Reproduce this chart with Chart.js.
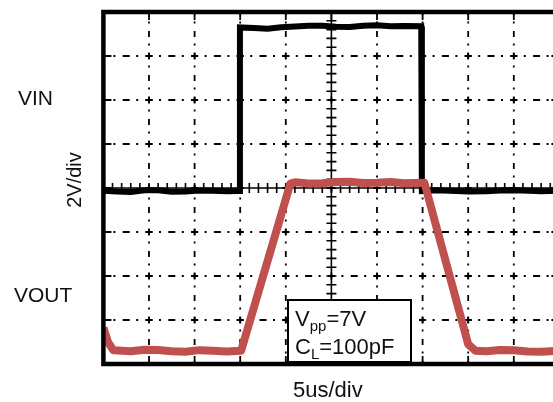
<!DOCTYPE html>
<html>
<head>
<meta charset="utf-8">
<script src="https://cdn.jsdelivr.net/npm/chart.js@4"></script>
<style>
  html, body { margin: 0; padding: 0; background: #fff; overflow: hidden; width: 553px; height: 402px; }
  #wrap { position: relative; width: 553px; height: 402px; overflow: hidden;
          font-family: "Liberation Sans", Arial, sans-serif; color: #111; }
  #scope { position: absolute; left: 0; top: 0; }
  .lbl { position: absolute; line-height: 1; white-space: nowrap; }
  #vin  { left: 18px; top: 87px; font-size: 21px; }
  #vout { left: 14px; top: 284px; font-size: 21px; }
  #vdiv { left: 74px; top: 180px; font-size: 20px; transform: translate(-50%, -50%) rotate(-90deg); }
  #hdiv { left: 293px; top: 379px; font-size: 22px; }
  #note { position: absolute; left: 287px; top: 299px; width: 125px; height: 64px; box-sizing: border-box;
          border: 2px solid #000; background: #fff; }
  #note .row { position: absolute; left: 6px; font-size: 22px; line-height: 1; white-space: nowrap; }
  #note .row sub { font-size: 15px; vertical-align: -5px; line-height: 0; }
</style>
</head>
<body>
<div id="wrap">
  <canvas id="scope" width="600" height="402"></canvas>
  <div class="lbl" id="vin">VIN</div>
  <div class="lbl" id="vout">VOUT</div>
  <div class="lbl" id="vdiv">2V/div</div>
  <div class="lbl" id="hdiv">5us/div</div>
  <div id="note">
    <div class="row" style="top:7px">V<sub>pp</sub>=7V</div>
    <div class="row" style="top:35px">C<sub>L</sub>=100pF</div>
  </div>
</div>
<script>
// Screen: 10 horizontal divisions at 5 µs, 8 vertical divisions at 2 V
const xRange = [0, 50];
const yRange = [-8, 8];
const xStep = 5;
const yStep = 2;

// Input square pulse (µs, V)
const vinTime = [0, 1.5, 3, 4.5, 6, 7.5, 9, 10.5, 12, 13.5, 14.9, 14.97, 16.5, 18, 19.5, 21, 22.5, 24, 25.5, 27, 28.5, 30, 31.5, 33, 34.85, 34.92, 36.5, 38, 40, 42, 44, 46, 48, 50];
const vinVolt = [-0.12, -0.16, -0.18, -0.1, -0.1, -0.17, -0.16, -0.11, -0.12, -0.15, -0.14, 7.30, 7.27, 7.24, 7.31, 7.34, 7.37, 7.38, 7.33, 7.32, 7.38, 7.40, 7.35, 7.36, 7.35, -0.14, -0.1, -0.12, -0.16, -0.15, -0.1, -0.11, -0.15, -0.13];

// Output with slew-limited edges (µs, V)
const voutTime = [0, 0.5, 1.1, 3, 4.5, 6, 7.5, 9, 10.5, 12, 13.5, 15.1, 20.5, 21, 22.5, 24, 25.5, 27, 28.5, 30, 31.5, 33, 35.2, 40.0, 40.8, 42, 43.5, 45, 46.5, 48, 50];
const voutVolt = [-6.35, -7.0, -7.38, -7.42, -7.35, -7.36, -7.42, -7.44, -7.37, -7.40, -7.43, -7.40, 0.20, 0.26, 0.21, 0.22, 0.27, 0.28, 0.23, 0.24, 0.27, 0.22, 0.24, -7.10, -7.40, -7.42, -7.36, -7.38, -7.43, -7.44, -7.40];

const toPoints = (ts, vs) => ts.map((t, i) => ({ x: t, y: vs[i] }));

// Oscilloscope graticule: dash-dot divisions, centre axes with minor ticks, thick frame
const graticule = {
  id: 'graticule',
  beforeDatasetsDraw(chart) {
    const { ctx, chartArea: a, scales: { x, y } } = chart;
    const divW = x.getPixelForValue(xRange[0] + xStep) - x.getPixelForValue(xRange[0]);
    const divH = y.getPixelForValue(yRange[0]) - y.getPixelForValue(yRange[0] + yStep);
    const xs = [], ys = [];
    for (let v = xRange[0] + xStep; v < xRange[1] - 1e-9; v += xStep) xs.push(v);
    for (let v = yRange[0] + yStep; v < yRange[1] - 1e-9; v += yStep) ys.push(v);
    const cx = x.getPixelForValue((xRange[0] + xRange[1]) / 2);
    const cy = y.getPixelForValue((yRange[0] + yRange[1]) / 2);

    ctx.save();
    ctx.strokeStyle = '#000';
    ctx.lineWidth = 1.8;

    // horizontal dash-dot lines
    ctx.setLineDash([7, 6.5, 2, divW / 2 - 15.5]);
    ctx.lineDashOffset = 3.5;
    ys.forEach(v => {
      const py = y.getPixelForValue(v);
      if (Math.abs(py - cy) < 0.5) return;
      ctx.beginPath(); ctx.moveTo(a.left, py); ctx.lineTo(a.right, py); ctx.stroke();
    });
    // vertical dash-dot lines
    ctx.setLineDash([6, 6.5, 2, divH / 2 - 14.5]);
    ctx.lineDashOffset = 3;
    xs.forEach(v => {
      const px = x.getPixelForValue(v);
      if (Math.abs(px - cx) < 0.5) return;
      ctx.beginPath(); ctx.moveTo(px, a.top); ctx.lineTo(px, a.bottom); ctx.stroke();
    });
    ctx.setLineDash([]);

    // centre axes
    ctx.lineWidth = 1.6;
    ctx.beginPath();
    ctx.moveTo(a.left, cy); ctx.lineTo(a.right, cy);
    ctx.moveTo(cx, a.top); ctx.lineTo(cx, a.bottom);
    ctx.stroke();

    // minor ticks (5 per division) on centre axes
    ctx.beginPath();
    for (let v = xRange[0]; v <= xRange[1] + 1e-9; v += xStep / 5) {
      const px = x.getPixelForValue(v);
      ctx.moveTo(px, cy - 5); ctx.lineTo(px, cy + 5);
    }
    for (let v = yRange[0]; v <= yRange[1] + 1e-9; v += yStep / 5) {
      const py = y.getPixelForValue(v);
      ctx.moveTo(cx - 5, py); ctx.lineTo(cx + 5, py);
    }
    ctx.stroke();

    // crosses at grid intersections and inward ticks on the frame
    ctx.lineWidth = 1.8;
    ctx.beginPath();
    xs.forEach(vx => {
      const px = x.getPixelForValue(vx);
      ys.forEach(vy => {
        const py = y.getPixelForValue(vy);
        ctx.moveTo(px - 3.5, py); ctx.lineTo(px + 3.5, py);
        ctx.moveTo(px, py - 3.5); ctx.lineTo(px, py + 3.5);
      });
      ctx.moveTo(px, a.top); ctx.lineTo(px, a.top + 8);
      ctx.moveTo(px, a.bottom); ctx.lineTo(px, a.bottom - 8);
    });
    ys.forEach(vy => {
      const py = y.getPixelForValue(vy);
      ctx.moveTo(a.left, py); ctx.lineTo(a.left + 8, py);
      ctx.moveTo(a.right, py); ctx.lineTo(a.right - 8, py);
    });
    ctx.stroke();
    ctx.restore();
  },
  afterDatasetsDraw(chart) {
    const { ctx, chartArea: a } = chart;
    ctx.save();
    ctx.strokeStyle = '#000';
    ctx.lineWidth = 4.5;
    ctx.strokeRect(a.left, a.top, a.right - a.left, a.bottom - a.top);
    ctx.restore();
  }
};

new Chart(document.getElementById('scope'), {
  type: 'line',
  data: {
    datasets: [
      {
        label: 'VOUT',
        data: toPoints(voutTime, voutVolt),
        borderColor: '#c0504d',
        borderWidth: 8,
        pointRadius: 0,
        tension: 0,
        borderJoinStyle: 'round',
        order: 0
      },
      {
        label: 'VIN',
        data: toPoints(vinTime, vinVolt),
        borderColor: '#000',
        borderWidth: 6,
        pointRadius: 0,
        tension: 0,
        order: 1
      }
    ]
  },
  options: {
    responsive: false,
    devicePixelRatio: 1,
    animation: false,
    events: [],
    layout: { padding: { left: 103.4, top: 12, right: 40.6, bottom: 38 } },
    scales: {
      x: { type: 'linear', min: xRange[0], max: xRange[1], display: false },
      y: { type: 'linear', min: yRange[0], max: yRange[1], display: false }
    },
    plugins: { legend: { display: false }, tooltip: { enabled: false } }
  },
  plugins: [graticule]
});
</script>
</body>
</html>
